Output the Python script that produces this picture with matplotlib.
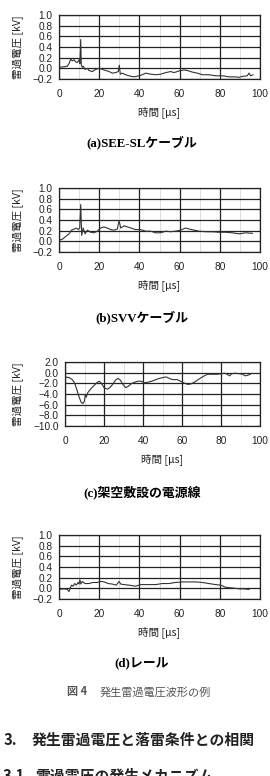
import matplotlib
matplotlib.use("Agg")
import matplotlib.pyplot as plt
from matplotlib.ticker import MultipleLocator

W, H = 270, 776
JP = ["Noto Sans CJK JP", "DejaVu Sans"]
TITLE_FONT = ["Liberation Serif", "Noto Sans CJK JP"]

# (a) SEE-SL cable  [time us, voltage kV]
t_a = [0, 2.5, 4.1, 5.0, 5.8, 6.6, 7.5, 8.3, 9.1, 10.0, 10.4, 10.8, 11.1, 11.6, 12.1,
       12.9, 14.1, 14.9, 16.6, 18.2, 19.9, 21.6, 23.2, 24.9, 26.5, 28.2, 29.5, 30.0,
       30.5, 31.5, 33.2, 34.8, 37.3, 39.8, 41.5, 43.1, 45.6, 48.1, 50.6, 53.1, 55.6,
       57.2, 59.7, 62.2, 63.8, 66.3, 68.8, 71.3, 74.6, 77.9, 81.3, 84.6, 87.9, 89.6,
       91.2, 93.7, 94.5, 95.4, 96.5]
v_a = [0.02, 0.03, 0.04, 0.09, 0.17, 0.14, 0.16, 0.12, 0.11, 0.16, 0.09, 0.54, 0.06,
       0.02, 0.04, -0.02, 0.0, -0.04, -0.06, -0.02, 0.0, -0.02, -0.04, -0.06, -0.09,
       -0.08, -0.06, 0.06, -0.11, -0.09, -0.12, -0.14, -0.16, -0.14, -0.12, -0.09,
       -0.11, -0.12, -0.11, -0.08, -0.06, -0.08, -0.05, -0.03, -0.04, -0.07, -0.09,
       -0.12, -0.12, -0.14, -0.14, -0.16, -0.16, -0.17, -0.15, -0.14, -0.09, -0.14,
       -0.12]

# (b) SVV cable
t_b = [0, 1.7, 3.3, 5.0, 6.3, 7.5, 8.6, 9.6, 10.3, 10.8, 11.3, 12.0, 13.0, 14.1, 15.8,
       17.4, 19.1, 20.7, 22.4, 24.0, 25.7, 27.4, 29.0, 29.9, 30.7, 32.3, 34.0, 35.7,
       38.1, 40.6, 43.1, 45.6, 48.1, 50.6, 53.1, 55.6, 58.0, 60.5, 63.0, 64.7, 67.2,
       69.7, 73.0, 76.3, 79.6, 82.9, 86.2, 89.6, 92.9, 96.2]
v_b = [0.02, 0.04, 0.09, 0.14, 0.21, 0.23, 0.25, 0.22, 0.25, 0.69, 0.11, 0.25, 0.14,
       0.21, 0.17, 0.16, 0.19, 0.25, 0.27, 0.25, 0.22, 0.21, 0.23, 0.39, 0.25, 0.29,
       0.27, 0.25, 0.22, 0.22, 0.19, 0.19, 0.16, 0.16, 0.19, 0.18, 0.19, 0.21, 0.25,
       0.23, 0.21, 0.19, 0.18, 0.18, 0.17, 0.17, 0.16, 0.14, 0.16, 0.15]

# (c) overhead power line
t_c = [0, 2.0, 3.7, 4.9, 5.9, 7.1, 8.2, 9.2, 9.9, 10.4, 10.9, 11.6, 12.6, 13.8, 15.5,
       16.6, 17.6, 18.8, 20.0, 21.7, 23.0, 24.4, 26.1, 27.2, 28.4, 29.7, 31.1, 32.3,
       33.9, 35.6, 37.3, 39.0, 40.7, 42.4, 44.5, 46.6, 48.2, 50.3, 51.9, 53.6, 55.3,
       57.5, 59.2, 60.8, 63.0, 64.7, 66.7, 68.7, 70.9, 73.1, 75.5, 78.2, 80.2, 81.8,
       83.2, 84.4, 85.5, 87.2, 89.4, 91.1, 92.3, 93.6, 95.0]
v_c = [-0.8, -0.9, -1.3, -1.9, -3.0, -4.4, -5.5, -5.8, -5.4, -4.1, -4.6, -3.8, -3.3,
       -2.8, -2.2, -1.8, -1.6, -2.1, -2.8, -3.1, -2.8, -2.2, -1.3, -1.1, -1.4, -2.2,
       -2.8, -2.6, -2.1, -1.8, -1.6, -1.6, -1.9, -1.8, -1.6, -1.3, -1.1, -0.9, -0.8,
       -1.1, -1.3, -1.3, -1.6, -1.9, -2.2, -2.1, -1.7, -1.2, -0.7, -0.3, -0.3, -0.3,
       -0.2, -0.1, -0.3, -0.6, -0.2, -0.1, -0.2, -0.3, -0.6, -0.5, -0.3]

# (d) rail
t_d = [0, 2.5, 4.1, 5.0, 5.5, 6.3, 7.0, 7.8, 8.6, 9.5, 10.0, 10.4, 10.9, 11.6, 12.9,
       14.9, 16.9, 19.1, 20.7, 22.4, 24.5, 26.5, 28.5, 29.9, 30.7, 32.3, 34.8, 38.1,
       40.6, 43.9, 48.1, 51.4, 54.7, 58.0, 61.4, 64.7, 68.0, 71.3, 74.6, 77.9, 80.4,
       82.9, 85.4, 87.9, 89.6, 92.0, 94.5]
v_d = [-0.02, -0.01, -0.02, -0.06, 0.0, 0.06, 0.04, 0.09, 0.06, 0.11, 0.08, 0.16, 0.08,
       0.13, 0.09, 0.09, 0.11, 0.11, 0.13, 0.12, 0.09, 0.08, 0.06, 0.13, 0.08, 0.07,
       0.06, 0.04, 0.07, 0.07, 0.07, 0.09, 0.09, 0.11, 0.12, 0.12, 0.12, 0.11, 0.09,
       0.07, 0.06, 0.02, 0.01, 0.0, -0.01, -0.01, -0.02]

titles = ["(a)SEE-SLケーブル", "(b)SVVケーブル", "(c)架空敷設の電源線", "(d)レール"]
series = [(t_a, v_a), (t_b, v_b), (t_c, v_c), (t_d, v_d)]
ylims = [(-0.2, 1.0), (-0.2, 1.0), (-10.0, 2.0), (-0.2, 1.0)]
ysteps = [0.2, 0.2, 2.0, 0.2]

# pixel boxes (left, top, right, bottom) and title y centres
boxes = [(59, 15, 260, 79), (59, 188, 260, 252), (65, 362, 260, 426), (59, 535, 260, 599)]
title_y = [142, 317, 492, 664]

fig = plt.figure(figsize=(W / 100, H / 100), dpi=100)

for (t, v), title, (y0, y1), step, (l, tp, r, b), ty in zip(
        series, titles, ylims, ysteps, boxes, title_y):
    ax = fig.add_axes([l / W, 1 - b / H, (r - l) / W, (b - tp) / H])
    ax.plot(t, v, color="#333333", lw=0.8)
    ax.set_xlim(0, 100)
    ax.set_ylim(y0, y1)
    ax.xaxis.set_major_locator(MultipleLocator(20))
    ax.xaxis.set_minor_locator(MultipleLocator(10))
    ax.yaxis.set_major_locator(MultipleLocator(step))
    ax.grid(True, which="major", color="#222222", lw=0.9)
    ax.grid(True, which="minor", axis="x", color="#d0d0d0", lw=0.5)
    ax.set_axisbelow(True)
    for s in ax.spines.values():
        s.set_color("#222222")
        s.set_linewidth(0.9)
    ax.tick_params(which="both", length=0, labelcolor="#222222")
    ax.tick_params(axis="x", pad=7.5)
    ax.tick_params(axis="y", pad=4.5)
    for lab in ax.get_xticklabels() + ax.get_yticklabels():
        lab.set_fontfamily("Liberation Sans")
        lab.set_fontsize(7.3)
    ax.set_yticklabels([f"{y:.1f}".replace("-", "\u2212") for y in ax.get_yticks()])
    ax.set_ylabel("雷過電圧 [kV]", family=JP, fontsize=7.6, color="#222222")
    ax.yaxis.set_label_coords((18 - l) / (r - l), 0.5)
    ax.yaxis.label.set_va("center")
    ax.set_xlabel("時間 [μs]", family=JP, fontsize=7.6, color="#222222")
    ax.xaxis.set_label_coords(0.5, -33 / (b - tp))
    ax.xaxis.label.set_va("center")
    fig.text(142 / W, 1 - ty / H, title, family=TITLE_FONT, weight="bold",
             fontsize=9.3, ha="center", va="center")

fig.text(67 / W, 1 - 692 / H, "図 4", family=JP, weight="bold", fontsize=8,
         color="#555555", ha="left", va="center")
fig.text(100 / W, 1 - 692 / H, "発生雷過電圧波形の例", family=JP, fontsize=8,
         color="#555555", ha="left", va="center")

fig.text(4 / W, 1 - 740 / H, "3.", family=JP, weight="bold", fontsize=10.7,
         color="#222222", ha="left", va="center")
fig.text(32 / W, 1 - 740 / H, "発生雷過電圧と落雷条件との相関", family=JP,
         weight="bold", fontsize=10.7, color="#222222", ha="left", va="center")
fig.text(3 / W, 1 - 768 / H, "3.1", family=JP, weight="bold", fontsize=10.7,
         color="#222222", ha="left", va="top")
fig.text(35 / W, 1 - 768 / H, "雷過電圧の発生メカニズム", family=JP, weight="bold",
         fontsize=10.7, color="#222222", ha="left", va="top")

fig.savefig("out.png", dpi=100)
